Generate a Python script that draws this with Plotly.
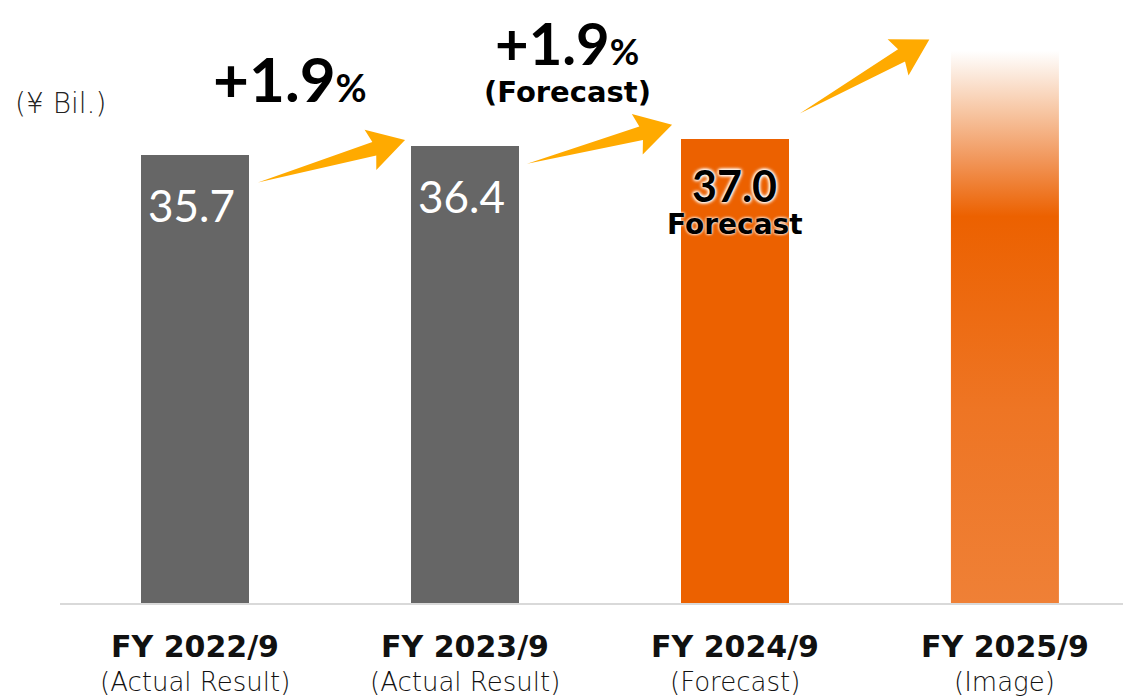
import plotly.graph_objects as go
import math

# ---- data ----
categories = ["FY 2022/9", "FY 2023/9", "FY 2024/9", "FY 2025/9"]
sublabels = ["(Actual Result)", "(Actual Result)", "(Forecast)", "(Image)"]
values = [35.7, 36.4, 37.0, 44.0]
value_labels = ["35.7", "36.4", "37.0", ""]
growth_labels = ["+1.9", "+1.9"]
growth_notes = ["", "(Forecast)"]
unit_label = "(¥ Bil.)"

# ---- geometry helpers (screen pixels; page body has an 8px margin) ----
OFF = 8
SW, SH = 1131, 696
W, H = SW - OFF, SH - OFF
S_LEFT, S_BASE, S_TOP = 60, 603, 30
ML = S_LEFT - OFF
MT = S_TOP - OFF
MB = SH - S_BASE
MR = 0
PW, PH = W - ML - MR, H - MT - MB
XR = [-0.5, 3.467]
PX_PER_Y = 12.55
YR = [0, PH / PX_PER_Y]
KX = PW / (XR[1] - XR[0])
KY = PX_PER_Y

def xp(px):
    return (px - S_LEFT) / PW

def yp(py):
    return (S_BASE - py) / PH

GRAY = "#666666"
ORANGE = "#EC6100"
ARROW = "#FFAA00"
BAR_W = 0.4

fig = go.Figure()
bar_colors = [GRAY, GRAY, ORANGE, "rgba(0,0,0,0)"]
xs = list(range(len(categories)))
fig.add_trace(go.Bar(x=xs, y=values, width=BAR_W, marker=dict(color=bar_colors, line=dict(width=0)),
                     hoverinfo="skip", showlegend=False))

# gradient "image" bar
i = 3
v = values[i]
fig.add_trace(go.Scatter(
    x=[i - BAR_W / 2, i + BAR_W / 2, i + BAR_W / 2, i - BAR_W / 2, i - BAR_W / 2],
    y=[0, 0, v, v, 0], mode="lines", fill="toself",
    line=dict(width=0, color="rgba(0,0,0,0)"),
    fillgradient=dict(type="vertical", start=0, stop=v,
                      colorscale=[[0.0, "#EF8036"], [0.35, "#EE7524"], [0.70, "#EC6100"],
                                  [0.80, "#F19558"], [0.89, "#F7C6A3"], [0.965, "#FCEDE2"], [1.0, "#FFFFFF"]]),
    hoverinfo="skip", showlegend=False))

# value labels
for j in range(3):
    if j < 2:
        fig.add_annotation(x=j, y=values[j], yshift=-50, xshift=-3, text=value_labels[j], showarrow=False,
                           xanchor="center", yanchor="middle",
                           font=dict(family="Lato", size=44, color="white"))
    else:
        fig.add_annotation(x=j, y=values[j], yshift=-47, text="<b>" + value_labels[j] + "</b>", showarrow=False,
                           xanchor="center", yanchor="middle",
                           font=dict(family="Lato", size=43, color="black",
                                     shadow="0 0 3px white, 0 0 3px white, 0 0 4px white, 0 0 4px white"))
        fig.add_annotation(x=j, y=values[j], yshift=-86, text="<b>Forecast</b>", showarrow=False,
                           xanchor="center", yanchor="middle",
                           font=dict(family="DejaVu Sans", size=28, color="black",
                                     shadow="0 0 3px white, 0 0 3px white"))

# category labels
for j, (c, s) in enumerate(zip(categories, sublabels)):
    fig.add_annotation(x=j, y=yp(646), yref="paper", text="<b>" + c + "</b>", showarrow=False,
                       xanchor="center", yanchor="middle",
                       font=dict(family="DejaVu Sans", size=30, color="#111111"))
    fig.add_annotation(x=j, y=yp(682), yref="paper", text=s, showarrow=False,
                       xanchor="center", yanchor="middle",
                       font=dict(family="DejaVu Sans", size=26, color="#111111", weight=300))

# unit label
fig.add_annotation(x=xp(13), y=yp(103), xref="paper", yref="paper", xanchor="left", yanchor="middle",
                   text=unit_label, showarrow=False,
                   font=dict(family="DejaVu Sans", size=28, color="#222222", weight=300))

# growth labels
fig.add_annotation(x=xp(290), y=yp(78), xref="paper", yref="paper", xanchor="center", yanchor="middle",
                   text="<b>" + growth_labels[0] + "<span style='font-size:38px'>%</span></b>",
                   showarrow=False, font=dict(family="Lato", size=62, color="black"))
fig.add_annotation(x=xp(567), y=yp(42), xref="paper", yref="paper", xanchor="center", yanchor="middle",
                   text="<b>" + growth_labels[1] + "<span style='font-size:36px'>%</span></b>",
                   showarrow=False, font=dict(family="Lato", size=58, color="black"))
fig.add_annotation(x=xp(567), y=yp(92), xref="paper", yref="paper", xanchor="center", yanchor="middle",
                   text="<b>" + growth_notes[1] + "</b>",
                   showarrow=False, font=dict(family="DejaVu Sans", size=29, color="black"))

# arrows (decorations), tail -> tip in data units
ARROWS = [(0.233, 33.5, 0.778, 36.9), (1.23, 35.0, 1.767, 38.1), (2.24, 39.0, 2.72, 44.9)]
HEAD_L, HEAD_HW, NECK_HW = 32, 21, 7
for (x0, y0, x1, y1) in ARROWS:
    ax, ay = x0 * KX, y0 * KY
    bx, by = x1 * KX, y1 * KY
    L = math.hypot(bx - ax, by - ay)
    dx, dy = (bx - ax) / L, (by - ay) / L
    nx, ny = -dy, dx
    hx, hy = bx - dx * HEAD_L, by - dy * HEAD_L
    pts = [(ax, ay),
           (hx - nx * NECK_HW, hy - ny * NECK_HW),
           (hx - nx * HEAD_HW - dx * 4, hy - ny * HEAD_HW - dy * 4),
           (bx, by),
           (hx + nx * HEAD_HW - dx * 4, hy + ny * HEAD_HW - dy * 4),
           (hx + nx * NECK_HW, hy + ny * NECK_HW)]
    path = "M " + " L ".join(f"{px / KX:.5f},{py / KY:.5f}" for px, py in pts) + " Z"
    fig.add_shape(type="path", path=path, xref="x", yref="y", fillcolor=ARROW, line=dict(width=0), layer="above")

fig.update_layout(
    width=W, height=H, margin=dict(l=ML, r=MR, t=MT, b=MB),
    plot_bgcolor="white", paper_bgcolor="white",
    xaxis=dict(range=XR, showgrid=False, zeroline=False, showticklabels=False, ticks="",
               showline=True, linecolor="#D9D9D9", linewidth=2),
    yaxis=dict(range=YR, showgrid=False, zeroline=False, showticklabels=False, ticks="", showline=False),
    bargap=0, showlegend=False,
)

fig.write_html("out.html")
